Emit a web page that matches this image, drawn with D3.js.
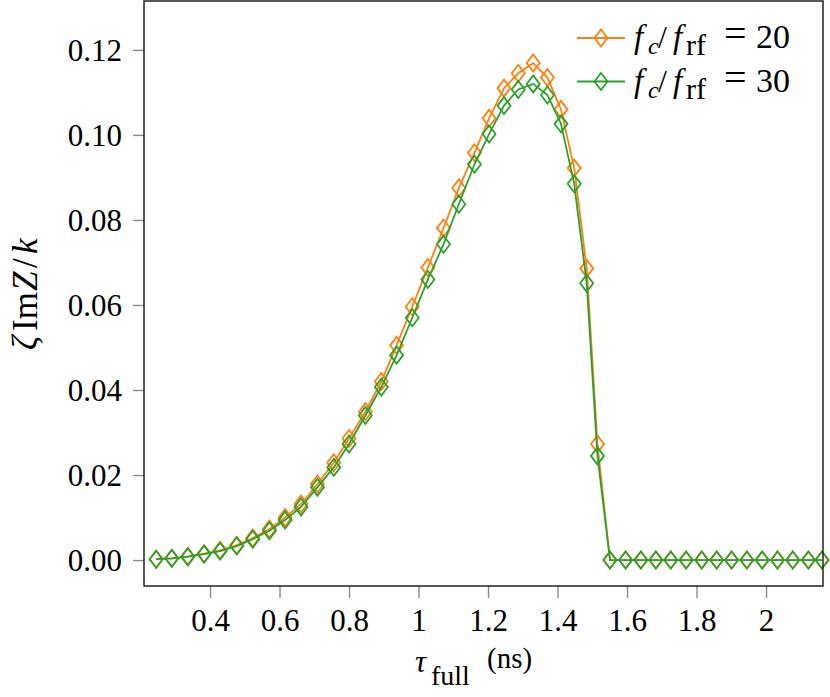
<!DOCTYPE html>
<html lang="en">
<head>
<meta charset="utf-8">
<title>Im Z vs tau_full</title>
<style>
  body { margin: 0; background: #fff; }
  text { font-family: "Liberation Serif", "DejaVu Serif", serif; fill: #000; }
</style>
</head>
<body>
<svg width="830" height="697"></svg>
<script src="https://d3js.org/d3.v7.min.js"></script>
<script>
// tau_full (ns) at each sample
var tau = [0.245, 0.290, 0.336, 0.383, 0.429, 0.477, 0.523, 0.571, 0.616, 0.662,
           0.709, 0.756, 0.800, 0.847, 0.893, 0.937, 0.982, 1.027, 1.072, 1.116,
           1.161, 1.203, 1.246, 1.287, 1.330, 1.371, 1.410, 1.448, 1.484, 1.515,
           1.551, 1.596, 1.640, 1.683, 1.726, 1.770, 1.815, 1.858, 1.901, 1.945,
           1.989, 2.033, 2.077, 2.122, 2.161];

// zeta Im Z / k, fc/frf = 20
var imz20 = [0.0002, 0.0004, 0.0008, 0.0015, 0.0023, 0.0035, 0.0052, 0.0073, 0.0100, 0.0132,
             0.0179, 0.0229, 0.0286, 0.0349, 0.0420, 0.0505, 0.0596, 0.0688, 0.0781, 0.0875,
             0.0958, 0.1039, 0.1110, 0.1145, 0.1169, 0.1135, 0.1060, 0.0922, 0.0686, 0.0273,
             0, 0, 0, 0, 0, 0, 0, 0, 0, 0, 0, 0, 0, 0, 0];

// zeta Im Z / k, fc/frf = 30
var imz30 = [0.0002, 0.0004, 0.0008, 0.0014, 0.0021, 0.0033, 0.0049, 0.0069, 0.0094, 0.0125,
             0.0171, 0.0218, 0.0273, 0.0340, 0.0407, 0.0482, 0.0570, 0.0660, 0.0743, 0.0837,
             0.0931, 0.1002, 0.1069, 0.1107, 0.1120, 0.1094, 0.1026, 0.0885, 0.0651, 0.0245,
             0, 0, 0, 0, 0, 0, 0, 0, 0, 0, 0, 0, 0, 0, 0];

var xTicks = [0.4, 0.6, 0.8, 1.0, 1.2, 1.4, 1.6, 1.8, 2.0];
var xTickLabels = ["0.4", "0.6", "0.8", "1", "1.2", "1.4", "1.6", "1.8", "2"];
var yTicks = [0.00, 0.02, 0.04, 0.06, 0.08, 0.10, 0.12];
var yTickLabels = ["0.00", "0.02", "0.04", "0.06", "0.08", "0.10", "0.12"];

var seriesNames = ["20", "30"];
var seriesColors = ["#ff7f0e", "#2ca02c"];

var svg = d3.select("svg");

// plot frame in pixels
var pLeft = 144, pRight = 823, pTop = 1, pBottom = 586;

var x = d3.scaleLinear().domain([0.21, 2.164]).range([pLeft, pRight]);
var y = d3.scaleLinear().domain([-0.0061, 0.1315]).range([pBottom, pTop]);

// axes (ticks outward, gray)
var xAxis = svg.append("g")
  .attr("transform", "translate(0," + pBottom + ")")
  .call(d3.axisBottom(x).tickValues(xTicks).tickSize(12).tickPadding(9)
        .tickFormat(function(d, i) { return xTickLabels[i]; }));
var yAxis = svg.append("g")
  .attr("transform", "translate(" + pLeft + ",0)")
  .call(d3.axisLeft(y).tickValues(yTicks).tickSize(11).tickPadding(11)
        .tickFormat(function(d, i) { return yTickLabels[i]; }));

[xAxis, yAxis].forEach(function(g) {
  g.attr("font-family", "Liberation Serif").attr("font-size", 31);
  g.select(".domain").remove();
  g.selectAll(".tick line").attr("stroke", "#8a8a8a").attr("stroke-width", 1.4);
  g.selectAll(".tick text").attr("fill", "#000");
});
xAxis.selectAll(".tick text").attr("dy", "0.78em");
yAxis.selectAll(".tick text").attr("dy", "0.34em");

// the data
var data = [imz20, imz30];
var plot = svg.append("g");

var line = d3.line()
  .x(function(d, i) { return x(tau[i]); })
  .y(function(d) { return y(d); });

var diamond = "M0,-8.5 L6.5,0 L0,8.5 L-6.5,0 Z";

data.forEach(function(vals, k) {
  plot.append("path")
    .datum(vals)
    .attr("d", line)
    .attr("fill", "none")
    .attr("stroke", seriesColors[k])
    .attr("stroke-width", 1.8);

  plot.selectAll(".m" + k)
    .data(vals)
    .enter().append("path")
      .attr("class", "m" + k)
      .attr("d", diamond)
      .attr("transform", function(d, i) { return "translate(" + x(tau[i]) + "," + y(d) + ")"; })
      .attr("fill", "none")
      .attr("stroke", seriesColors[k])
      .attr("stroke-width", 1.8);
});

// frame
svg.append("rect")
  .attr("x", pLeft).attr("y", pTop)
  .attr("width", pRight - pLeft).attr("height", pBottom - pTop)
  .attr("fill", "none")
  .attr("stroke", "#222")
  .attr("stroke-width", 1.5);

// small helper for a piece of math text
function piece(parent, px, py, str, size, italic) {
  return parent.append("text")
    .attr("x", px).attr("y", py)
    .style("font-size", size + "px")
    .attr("font-style", italic ? "italic" : "normal")
    .text(str);
}

// legend
var legend = svg.append("g");
seriesNames.forEach(function(name, k) {
  var ly = 38 + k * 43.5;
  legend.append("line")
    .attr("x1", 577).attr("x2", 625).attr("y1", ly).attr("y2", ly)
    .attr("stroke", seriesColors[k]).attr("stroke-width", 1.8);
  legend.append("path")
    .attr("d", diamond)
    .attr("transform", "translate(601," + ly + ")")
    .attr("fill", "none").attr("stroke", seriesColors[k]).attr("stroke-width", 1.8);

  var bl = ly + 10;
  piece(legend, 634, bl, "f", 33, true);
  piece(legend, 648, bl + 6, "c", 24, true);
  piece(legend, 658, bl, "/", 32, false);
  piece(legend, 673, bl, "f", 33, true);
  piece(legend, 686, bl + 7, "rf", 30, false);
  piece(legend, 724, bl - 1, "=", 40, false);
  piece(legend, 756, bl, name, 34, false);
});

// x label
var xl = svg.append("g");
piece(xl, 415, 672, "τ", 31, true);
piece(xl, 431, 685, "full", 28, false);
piece(xl, 487, 668, "(ns)", 29, false);

// y label
var yl = svg.append("g").attr("transform", "translate(37,350) rotate(-90)");
piece(yl, 0, 0, "ζ", 35, true);
piece(yl, 19, 0, "Im", 35, false);
piece(yl, 59, 0, "Z", 35, true);
piece(yl, 82, 0, "/", 35, false);
piece(yl, 96, 0, "k", 35, true);
</script>
</body>
</html>
